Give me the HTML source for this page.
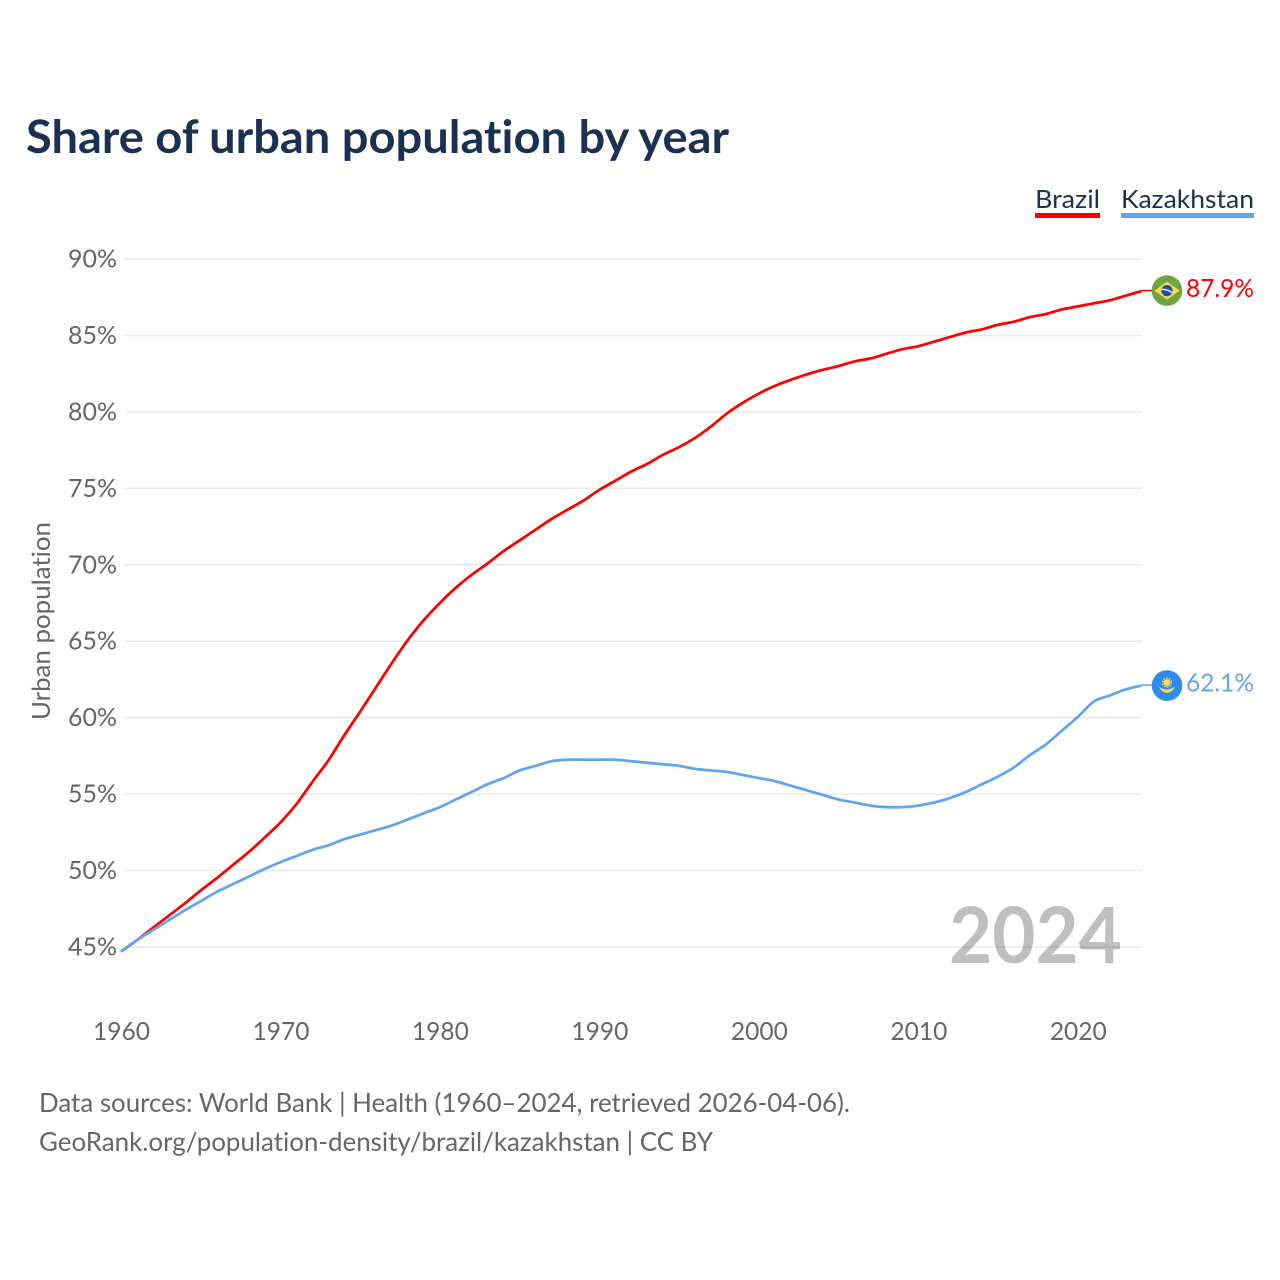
<!DOCTYPE html>
<html lang="en">
<head>
<meta charset="utf-8">
<title>Share of urban population by year</title>
<style>
html,body{margin:0;padding:0;background:#fff;}
svg{display:block;}
text{font-family:"Lato","Carlito","Liberation Sans",sans-serif;font-variant-ligatures:none;}
</style>
</head>
<body>
<svg id="chart" width="1280" height="1280" viewBox="0 0 1280 1280" xmlns="http://www.w3.org/2000/svg">
  <rect x="0" y="0" width="1280" height="1280" fill="#ffffff"/>
  <text x="26" y="153" font-size="46" font-weight="700" fill="#1a3152" textLength="703" lengthAdjust="spacingAndGlyphs">Share of urban population by year</text>

  <g id="grid"></g>
  <g id="yticks"></g>
  <g id="xticks"></g>

  <text transform="translate(50,621) rotate(-90)" text-anchor="middle" font-size="25" fill="#666666" textLength="198" lengthAdjust="spacingAndGlyphs">Urban population</text>

  <text x="1122" y="963" text-anchor="end" font-size="78" font-weight="700" fill="#000000" fill-opacity="0.25" textLength="173" lengthAdjust="spacingAndGlyphs">2024</text>

  <g id="series"></g>

  <g>
    <text x="1035" y="208" font-size="25.5" fill="#1a3152" textLength="65" lengthAdjust="spacingAndGlyphs">Brazil</text>
    <rect x="1035" y="213" width="65" height="5" fill="#ff0000"/>
  </g>
  <g>
    <text x="1121" y="208" font-size="25.5" fill="#1a3152" textLength="133" lengthAdjust="spacingAndGlyphs">Kazakhstan</text>
    <rect x="1121" y="213" width="133" height="5" fill="#60a5ee"/>
  </g>

  <g id="ends"></g>

  <text x="39" y="1112" font-size="26.5" fill="#666666" textLength="811" lengthAdjust="spacingAndGlyphs">Data sources: World Bank | Health (1960–2024, retrieved 2026-04-06).</text>
  <text x="39" y="1151" font-size="26.5" fill="#666666" textLength="674" lengthAdjust="spacingAndGlyphs">GeoRank.org/population-density/brazil/kazakhstan | CC BY</text>
</svg>
<script>
const yTickValues = [45, 50, 55, 60, 65, 70, 75, 80, 85, 90];
const xTickValues = [1960, 1970, 1980, 1990, 2000, 2010, 2020];
const startYear = 1960;
const endYear = 2024;
const brazilValues = [44.7, 45.45, 46.25, 47.05, 47.85, 48.7, 49.5, 50.35, 51.2, 52.15, 53.15, 54.35, 55.8, 57.2, 58.85, 60.4, 62.0, 63.6, 65.1, 66.4, 67.5, 68.5, 69.35, 70.1, 70.9, 71.6, 72.3, 73.0, 73.6, 74.2, 74.9, 75.5, 76.1, 76.6, 77.2, 77.7, 78.3, 79.05, 79.9, 80.6, 81.2, 81.7, 82.1, 82.45, 82.75, 83.0, 83.3, 83.5, 83.8, 84.1, 84.3, 84.6, 84.9, 85.2, 85.4, 85.7, 85.9, 86.2, 86.4, 86.7, 86.9, 87.1, 87.3, 87.6, 87.9];
const kazakhstanValues = [44.7, 45.45, 46.1, 46.75, 47.4, 48.0, 48.6, 49.1, 49.6, 50.1, 50.55, 50.95, 51.35, 51.65, 52.05, 52.35, 52.65, 52.95, 53.35, 53.75, 54.15, 54.65, 55.15, 55.65, 56.05, 56.55, 56.85, 57.15, 57.25, 57.25, 57.25, 57.25, 57.15, 57.05, 56.95, 56.85, 56.65, 56.55, 56.45, 56.25, 56.05, 55.85, 55.55, 55.25, 54.95, 54.65, 54.45, 54.25, 54.15, 54.15, 54.25, 54.45, 54.75, 55.15, 55.65, 56.15, 56.75, 57.55, 58.25, 59.15, 60.05, 61.05, 61.45, 61.85, 62.1];

const NS = 'http://www.w3.org/2000/svg';
const BRAZIL_COLOR = '#ff0000';
const KAZ_COLOR = '#60a5ee';

function xScale(year) { return 121 + (year - 1960) * (1141.6 - 121) / 64; }
function yScale(v) { return 947 - (v - 45) * (947 - 259) / 45; }
function make(tag, attrs, parent) {
  const el = document.createElementNS(NS, tag);
  for (const k in attrs) el.setAttribute(k, attrs[k]);
  parent.appendChild(el);
  return el;
}

const gridG = document.getElementById('grid');
const yG = document.getElementById('yticks');
yTickValues.forEach(function (v) {
  const line = make('line', { x1: 125, x2: 1141.6, y1: yScale(v), y2: yScale(v), stroke: '#e9e9e9', 'stroke-width': 1.5 }, gridG);
  
  
  const t = make('text', { x: 117, y: yScale(v) + 8.5, 'text-anchor': 'end', 'font-size': 25, fill: '#666666', textLength: 49, lengthAdjust: 'spacingAndGlyphs' }, yG);
  
  
  t.textContent = v + '%';
});

const xG = document.getElementById('xticks');
xTickValues.forEach(function (y) {
  const t = make('text', { x: xScale(y) + 0.5, y: 1040, 'text-anchor': 'middle', 'font-size': 25, fill: '#666666', textLength: 57, lengthAdjust: 'spacingAndGlyphs' }, xG);
  
  
  t.textContent = String(y);
});

function linePath(values) {
  const pts = values.map(function (v, i) { return [xScale(startYear + i), yScale(v)]; });
  let d = 'M' + pts[0][0].toFixed(2) + ' ' + pts[0][1].toFixed(2);
  for (let i = 0; i < pts.length - 1; i++) {
    const p0 = pts[Math.max(i - 1, 0)], p1 = pts[i], p2 = pts[i + 1], p3 = pts[Math.min(i + 2, pts.length - 1)];
    const c1x = p1[0] + (p2[0] - p0[0]) / 6, c1y = p1[1] + (p2[1] - p0[1]) / 6;
    const c2x = p2[0] - (p3[0] - p1[0]) / 6, c2y = p2[1] - (p3[1] - p1[1]) / 6;
    d += ' C' + c1x.toFixed(2) + ' ' + c1y.toFixed(2) + ' ' + c2x.toFixed(2) + ' ' + c2y.toFixed(2) + ' ' + p2[0].toFixed(2) + ' ' + p2[1].toFixed(2);
  }
  return d;
}

const seriesG = document.getElementById('series');
const brazilLine = make('path', { d: linePath(brazilValues), fill: 'none', stroke: BRAZIL_COLOR, 'stroke-width': 2.75, 'stroke-linejoin': 'round' }, seriesG);


const kazLine = make('path', { d: linePath(kazakhstanValues), fill: 'none', stroke: KAZ_COLOR, 'stroke-width': 2.75, 'stroke-linejoin': 'round' }, seriesG);



const endsG = document.getElementById('ends');
const flagX = 1167;

function endLabel(values, color) {
  const last = values[values.length - 1];
  const y = yScale(last);
  const conn = make('line', { x1: xScale(endYear), x2: flagX - 12, y1: y - 0.5, y2: y - 0.5, stroke: color, 'stroke-width': 1.5 }, endsG);
  
  
  const t = make('text', { x: 1186, y: y + 6, 'font-size': 25.5, fill: color, textLength: 68, lengthAdjust: 'spacingAndGlyphs' }, endsG);
  
  
  t.textContent = last.toFixed(1) + '%';
  return y;
}

const by = endLabel(brazilValues, BRAZIL_COLOR) - 0.5;
const brazilFlag = make('g', { transform: 'translate(' + flagX + ',' + by + ')' }, endsG);


make('circle', { r: 15.3, fill: '#6da544' }, brazilFlag);
make('polygon', { points: '-12.5,0 0,-9 12.5,0 0,9', fill: '#ffda44' }, brazilFlag);
make('circle', { r: 5.6, fill: '#1b4fb0' }, brazilFlag);
make('path', { d: 'M-5.3,-1.2 Q0,-1.6 5.3,2', stroke: '#f0f0f0', 'stroke-width': 1.4, fill: 'none' }, brazilFlag);

const ky = endLabel(kazakhstanValues, KAZ_COLOR);
const kazFlag = make('g', { transform: 'translate(' + flagX + ',' + ky + ')' }, endsG);


make('circle', { r: 15.3, fill: '#2f8bf0' }, kazFlag);
make('circle', { cy: -3, r: 3.4, fill: '#ffda44' }, kazFlag);
make('circle', { cy: -3, r: 4.4, fill: 'none', stroke: '#ffda44', 'stroke-width': 1.4, 'stroke-dasharray': '1.6 1.2' }, kazFlag);
make('path', { d: 'M-8,1 Q-4,4 0,4 Q4,4 8,1 Q5,7.5 0,7.5 Q-5,7.5 -8,1 Z', fill: '#ffda44' }, kazFlag);
</script>
</body>
</html>
